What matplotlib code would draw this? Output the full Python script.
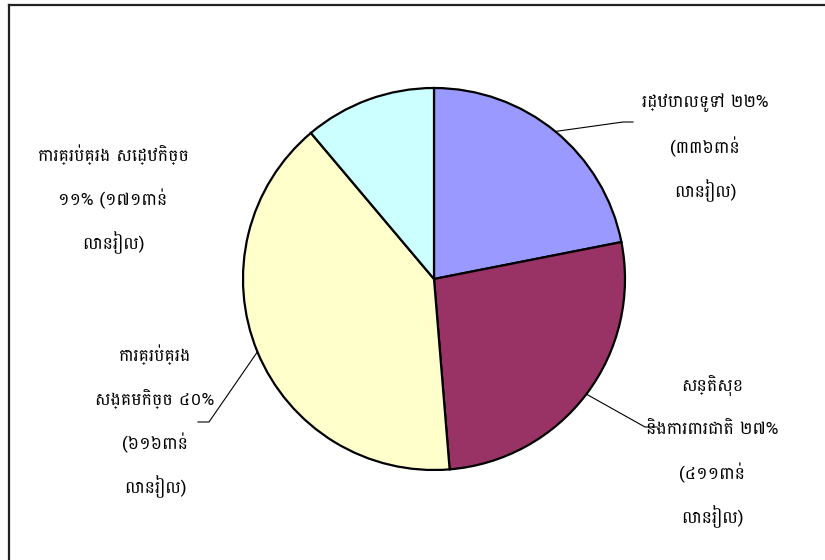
import numpy as np
import matplotlib
matplotlib.use("Agg")
import matplotlib.pyplot as plt

# budget, thousand million riel
values = [336, 411, 616, 171]
colors = ["#9999FF", "#993366", "#FFFFCC", "#CCFFFF"]
labels = [
    "រដ្ឋបាលទូទៅ ២២%\n(៣៣៦ពាន់\nលានរៀល)",
    "សន្តិសុខ\nនិងការពារជាតិ ២៧%\n(៤១១ពាន់\nលានរៀល)",
    "ការគ្រប់គ្រង\nសង្គមកិច្ច ៤០%\n(៦១៦ពាន់\nលានរៀល)",
    "ការគ្រប់គ្រង សេដ្ឋកិច្ច\n១១% (១៧១ពាន់\nលានរៀល)",
]

plt.rcParams['font.family'] = ['Battambang', 'DejaVu Sans']

W, H = 825, 560
fig = plt.figure(figsize=(W / 100, H / 100), dpi=100)
ax = fig.add_axes([0, 0, 1, 1])
ax.set_xlim(0, W)
ax.set_ylim(0, H)
ax.set_aspect("equal")
ax.axis("off")

cx, cy, r = 434, H - 279, 191
wedges, _ = ax.pie(values, colors=colors, startangle=90, counterclock=False,
                   center=(cx, cy), radius=r, frame=True,
                   wedgeprops=dict(edgecolor="black", linewidth=1.6))
ax.set_xlim(0, W)
ax.set_ylim(0, H)
ax.axis("off")

# chart frame (left and top edges)
ax.plot([9, 9], [0, H - 5], color="#222222", lw=1.6, clip_on=False)
ax.plot([9, W], [H - 5, H - 5], color="#222222", lw=1.6, clip_on=False)

# label placement: text centre x, top line y (px from top), leader elbow, leader end
label_pos = [
    (705, 103, (623, 122), (633, 122)),
    (712, 385, (645, 427), (657, 427)),
    (155, 355, (209, 422), (198, 422)),
    (113, 155, None, None),
]
line_gap = 44
for w, lab, (tx, ty, elbow, end) in zip(wedges, labels, label_pos):
    for i, ln in enumerate(lab.split("\n")):
        ax.text(tx, H - (ty + i * line_gap), ln, ha="center", va="center",
                fontsize=12.5, color="black")
    if elbow is not None:
        ang = np.deg2rad((w.theta1 + w.theta2) / 2)
        sx, sy = cx + r * np.cos(ang), cy + r * np.sin(ang)
        ax.plot([sx, elbow[0], end[0]], [sy, H - elbow[1], H - end[1]],
                color="black", lw=0.8)

fig.savefig("out.png", dpi=100)
